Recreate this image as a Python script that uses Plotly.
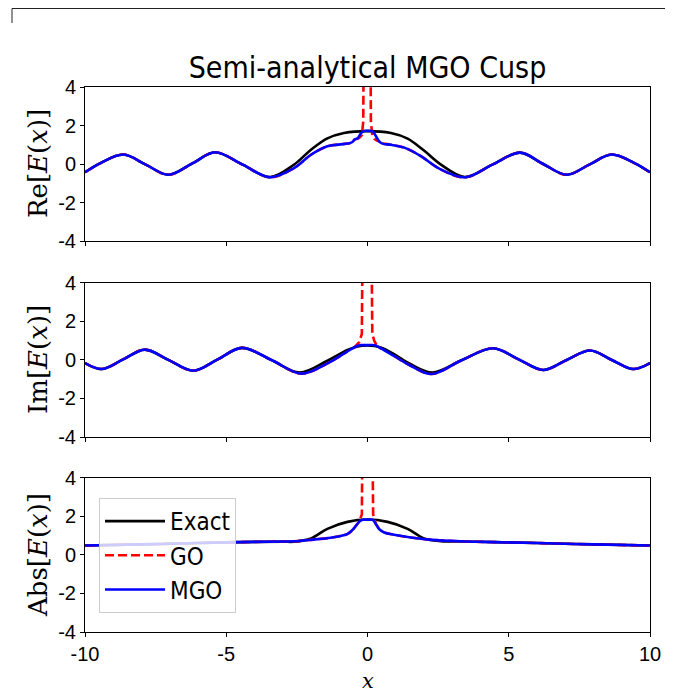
import plotly.graph_objects as go
from plotly.subplots import make_subplots

# ---------------- data ----------------
# Re[E(x)]
re_x_exact = [-10, -9.45, -8.64, -7.85, -7.05, -6.2, -5.4, -4.42, -3.45, -2.6, -2.0, -1.42, -0.83, 0,
              0.83, 1.42, 2.0, 2.6, 3.45, 4.42, 5.4, 6.22, 7.05, 7.85, 8.64, 9.45, 10]
re_exact = [-0.43, 0.05, 0.49, -0.03, -0.56, 0.03, 0.61, -0.03, -0.68, -0.03, 0.74, 1.33, 1.61, 1.71,
            1.61, 1.32, 0.70, -0.03, -0.68, -0.03, 0.59, 0.0, -0.56, -0.03, 0.49, 0.05, -0.43]
re_x_mgo = [-10, -9.45, -8.64, -7.85, -7.05, -6.2, -5.4, -4.42, -3.45, -2.6, -2.0, -1.42, -0.71, -0.55,
            -0.45, -0.35, -0.22, -0.12, 0.0, 0.18, 0.3, 0.41, 0.53, 0.83, 1.3, 1.89, 2.54, 3.45, 4.42,
            5.4, 6.22, 7.05, 7.85, 8.64, 9.45, 10]
re_mgo = [-0.43, 0.05, 0.49, -0.03, -0.56, 0.03, 0.61, -0.03, -0.69, -0.21, 0.48, 0.92, 1.06, 1.13,
          1.28, 1.33, 1.62, 1.72, 1.72, 1.70, 1.44, 1.18, 1.06, 1.0, 0.85, 0.41, -0.24, -0.69, -0.03,
          0.59, 0.0, -0.56, -0.03, 0.49, 0.05, -0.43]
re_x_go = [-0.45, -0.3, -0.2, -0.15, -0.13, 0.0, 0.1, 0.12, 0.17, 0.25, 0.35, 0.45]
re_go = [1.28, 1.35, 1.5, 2.2, 8.0, 40.0, 8.0, 2.2, 1.5, 1.3, 1.2, 1.15]

# Im[E(x)]
im_x_exact = [-10, -9.41, -8.65, -7.88, -7.03, -6.17, -5.3, -4.45, -3.4, -2.4, -1.42, -0.71, -0.35, 0,
              0.47, 0.94, 1.53, 2.3, 3.35, 4.45, 5.35, 6.22, 7.05, 7.88, 8.65, 9.41, 10]
im_exact = [-0.16, -0.47, 0.03, 0.54, -0.01, -0.56, 0.03, 0.63, 0.0, -0.65, -0.04, 0.52, 0.70, 0.75,
            0.65, 0.30, -0.22, -0.65, 0.0, 0.61, 0.03, -0.52, 0.0, 0.49, 0.0, -0.47, -0.16]
im_x_mgo = [-10, -9.41, -8.65, -7.88, -7.03, -6.17, -5.3, -4.45, -3.4, -2.35, -1.42, -0.71, -0.35,
            -0.25, 0, 0.25, 0.47, 0.94, 1.53, 2.27, 3.35, 4.45, 5.35, 6.22, 7.05, 7.88, 8.65, 9.41, 10]
im_mgo = [-0.16, -0.47, 0.03, 0.54, -0.01, -0.56, 0.03, 0.63, 0.0, -0.71, -0.18, 0.45, 0.74, 0.77,
          0.77, 0.77, 0.61, 0.21, -0.30, -0.73, 0.0, 0.61, 0.03, -0.52, 0.0, 0.49, 0.0, -0.47, -0.16]
im_x_go = [-0.5, -0.41, -0.3, -0.2, -0.15, 0.0, 0.13, 0.17, 0.24, 0.33, 0.5]
im_go = [0.6, 0.75, 0.92, 1.35, 8.0, 40.0, 8.0, 1.35, 1.0, 0.75, 0.58]

# Abs[E(x)]
abs_x_exact = [-10, -8, -6, -4.5, -3.0, -2.6, -2.0, -1.42, -0.71, 0, 0.71, 1.42, 2.0, 2.6, 3.3, 4.5,
               6, 8, 10]
abs_exact = [0.49, 0.55, 0.62, 0.67, 0.69, 0.69, 0.86, 1.36, 1.72, 1.84, 1.72, 1.36, 0.86, 0.72, 0.70,
             0.67, 0.62, 0.55, 0.49]
abs_x_mgo = [-10, -8, -6, -4.5, -3.0, -2.6, -1.93, -1.3, -0.7, -0.5, -0.3, -0.18, 0, 0.18, 0.3, 0.41,
             0.59, 0.94, 1.53, 2.2, 3.3, 4.5, 6, 8, 10]
abs_mgo = [0.49, 0.55, 0.62, 0.67, 0.70, 0.71, 0.80, 0.90, 1.10, 1.35, 1.72, 1.83, 1.83, 1.83, 1.60,
           1.35, 1.17, 1.05, 0.91, 0.80, 0.71, 0.67, 0.62, 0.55, 0.49]
abs_x_go = [-0.5, -0.3, -0.2, -0.16, 0.0, 0.16, 0.2, 0.3, 0.45]
abs_go = [1.35, 1.72, 2.1, 8.0, 40.0, 8.0, 2.1, 1.6, 1.3]

y_labels = ["Re[<i>E</i>(<i>x</i>)]", "Im[<i>E</i>(<i>x</i>)]", "Abs[<i>E</i>(<i>x</i>)]"]
x_ticks = [-10, -5, 0, 5, 10]
x_ticktext = ["-10", "-5", "0", "5", "10"]
y_ticks = [-4, -2, 0, 2, 4]
y_ticktext = ["-4", "-2", "0", "2", "4"]
title_text = "Semi-analytical MGO Cusp"
legend_names = ["Exact", "GO", "MGO"]

# ---------------- figure ----------------
NARROW = "DejaVu Sans Condensed, Liberation Sans Narrow, Liberation Sans, sans-serif"
SANS = "Liberation Sans, Arial, sans-serif"
SERIF = "DejaVu Serif, Liberation Serif, serif"

# the page body has an 8 px margin, so the figure is drawn 8 px smaller
W, H = 667, 686
ML, MR, MT, MB = 77, 25, 79, 62
PW, PH = W - ML - MR, H - MT - MB

fig = make_subplots(rows=3, cols=1, shared_xaxes=True)

panels = [
    (re_x_exact, re_exact, re_x_mgo, re_mgo, re_x_go, re_go),
    (im_x_exact, im_exact, im_x_mgo, im_mgo, im_x_go, im_go),
    (abs_x_exact, abs_exact, abs_x_mgo, abs_mgo, abs_x_go, abs_go),
]

LW = 2.6
for i, (xe, ye, xm, ym, xg, yg) in enumerate(panels):
    row = i + 1
    show = (row == 3)
    fig.add_trace(go.Scatter(x=xe, y=ye, mode="lines", name=legend_names[0],
                             line=dict(color="black", width=LW, shape="spline"),
                             legendgroup="exact", showlegend=show), row=row, col=1)
    # GO: coincides with MGO away from the caustic, diverges at the centre
    left = [(x, y) for x, y in zip(xm, ym) if x <= xg[0]]
    right = [(x, y) for x, y in zip(xm, ym) if x >= xg[-1]]
    fig.add_trace(go.Scatter(x=[p[0] for p in left], y=[p[1] for p in left], mode="lines",
                             name=legend_names[1],
                             line=dict(color="red", width=LW, dash="9px,4px", shape="spline"),
                             legendgroup="go", showlegend=False), row=row, col=1)
    fig.add_trace(go.Scatter(x=xg, y=yg, mode="lines", name=legend_names[1],
                             line=dict(color="red", width=LW, dash="9px,4px"),
                             legendgroup="go", showlegend=show), row=row, col=1)
    fig.add_trace(go.Scatter(x=[p[0] for p in right], y=[p[1] for p in right], mode="lines",
                             name=legend_names[1],
                             line=dict(color="red", width=LW, dash="9px,4px", shape="spline"),
                             legendgroup="go", showlegend=False), row=row, col=1)
    fig.add_trace(go.Scatter(x=xm, y=ym, mode="lines", name=legend_names[2],
                             line=dict(color="blue", width=LW, shape="spline"),
                             legendgroup="mgo", showlegend=show), row=row, col=1)

domains = [[0.7174, 1.0], [0.3578, 0.6404], [0.0, 0.2826]]
for i in range(3):
    row = i + 1
    fig.update_yaxes(row=row, col=1, domain=domains[i], range=[-4, 4],
                     tickvals=y_ticks, ticktext=y_ticktext,
                     showline=True, linecolor="black", linewidth=1, mirror=True,
                     ticks="outside", ticklen=4, tickwidth=1, tickcolor="black",
                     showgrid=False, zeroline=False,
                     tickfont=dict(family=SANS, size=20, color="black"))
    fig.update_xaxes(row=row, col=1, range=[-10, 10],
                     tickvals=x_ticks, ticktext=x_ticktext,
                     showticklabels=(row == 3),
                     showline=True, linecolor="black", linewidth=1, mirror=True,
                     ticks="outside", ticklen=4, tickwidth=1, tickcolor="black",
                     showgrid=False, zeroline=False,
                     tickfont=dict(family=SANS, size=20, color="black"))

annotations = []
for i in range(3):
    yc = (domains[i][0] + domains[i][1]) / 2
    annotations.append(dict(text=y_labels[i], xref="paper", yref="paper", x=(30 - ML) / PW, y=yc,
                            xanchor="center", yanchor="middle", textangle=-90, showarrow=False,
                            font=dict(family=SERIF, size=26, color="black")))
annotations.append(dict(text="<i>x</i>", xref="paper", yref="paper", x=0.5, y=-MB / PH,
                        xanchor="center", yanchor="bottom", showarrow=False, borderpad=0,
                        font=dict(family=SERIF, size=21, color="black")))

fig.update_layout(
    width=W, height=H,
    margin=dict(l=ML, r=MR, t=MT, b=MB),
    plot_bgcolor="white", paper_bgcolor="white",
    title=dict(text=title_text, x=0.5, xref="paper", y=1 - 59 / H, yref="container",
               xanchor="center", yanchor="middle",
               font=dict(family=NARROW, size=30, color="black")),
    legend=dict(x=(14) / PW, y=(PH + MT - 490) / PH, xanchor="left", yanchor="top",
                bgcolor="rgba(255,255,255,0.8)", bordercolor="#cccccc", borderwidth=1,
                font=dict(family=NARROW, size=24, color="black"),
                itemwidth=60, tracegroupgap=0),
    annotations=annotations,
    shapes=[
        dict(type="line", xref="paper", yref="paper", x0=(4 - ML) / PW, x1=(657 - ML) / PW,
             y0=(PH + MT - 0.5) / PH, y1=(PH + MT - 0.5) / PH,
             line=dict(color="#222222", width=1)),
        dict(type="line", xref="paper", yref="paper", x0=(4 - ML) / PW, x1=(4 - ML) / PW,
             y0=(PH + MT - 0.5) / PH, y1=(PH + MT - 15) / PH,
             line=dict(color="#222222", width=1)),
    ],
)

fig.write_html("out.html")
